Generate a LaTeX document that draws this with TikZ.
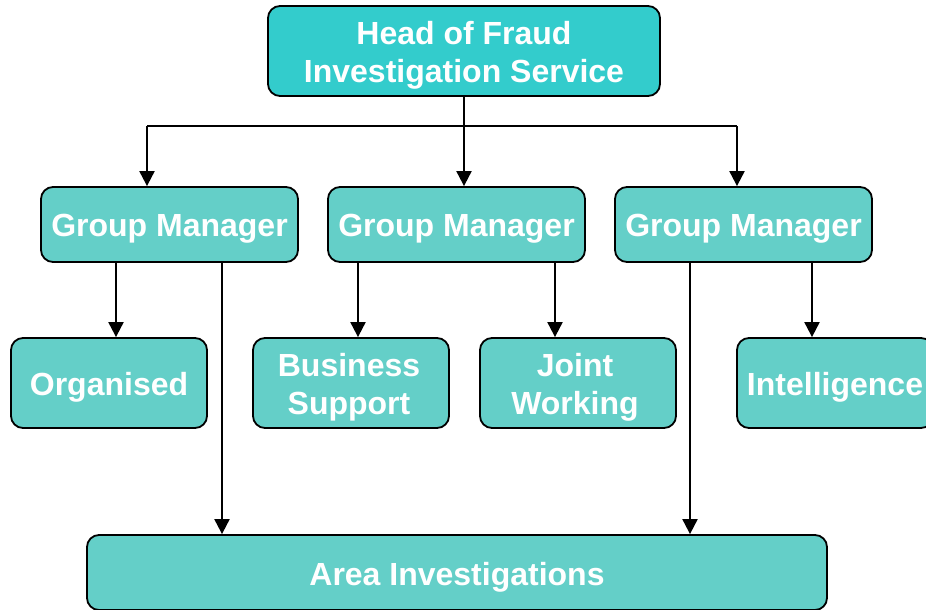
\documentclass[tikz,border=0pt]{standalone}
\usepackage{fontspec}
\setmainfont{Liberation Sans}
\usetikzlibrary{arrows.meta}
\definecolor{headfill}{RGB}{51,204,204}
\definecolor{boxfill}{RGB}{100,207,200}
\begin{document}
\begin{tikzpicture}[x=1pt,y=-1pt,
  box/.style={draw=black,line width=1.8pt,rounded corners=12pt,fill=boxfill,inner sep=0pt},
  txt/.style={text=white,font=\fontsize{32}{38}\selectfont\bfseries,align=center,inner sep=0pt,yshift=-4.5pt},
  gmbox/.style={box,minimum width=257pt,minimum height=75pt},
  lowbox/.style={box,minimum width=196pt,minimum height=90pt},
  conn/.style={line width=2pt,draw=black},
  arr/.style={conn,-{Triangle[length=15pt,width=15pt]}}]
\useasboundingbox (0,0) rectangle (926,610);
\node[box,fill=headfill,minimum width=392pt,minimum height=90pt,label={[txt]center:Head of Fraud\\Investigation Service}] (head) at (464,51) {};
\node[gmbox,label={[txt]center:Group Manager}] (gm1) at (169.5,224.5) {};
\node[gmbox,label={[txt]center:Group Manager}] (gm2) at (456.5,224.5) {};
\node[gmbox,label={[txt]center:Group Manager}] (gm3) at (743.5,224.5) {};
\node[lowbox,label={[txt]center:Organised}] (org) at (109,383) {};
\node[lowbox,label={[txt,xshift=-2pt]center:Business\\Support}] (bs) at (351,383) {};
\node[lowbox,label={[txt,xshift=-3pt]center:Joint\\Working}] (jw) at (578,383) {};
\node[lowbox,label={[txt]center:Intelligence}] (intel) at (835,383) {};
\node[box,minimum width=740pt,minimum height=75pt,label={[txt]center:Area Investigations}] (area) at (457,572.5) {};
\coordinate (bL) at (147,126);
\coordinate (bR) at (737,126);
\coordinate (x116) at (116,0);
\coordinate (x222) at (222,0);
\coordinate (x358) at (358,0);
\coordinate (x555) at (555,0);
\coordinate (x690) at (690,0);
\coordinate (x812) at (812,0);
\draw[conn] (bL) -- (bR);
\draw[arr] (head.south) -- (head.south |- gm2.north);
\draw[arr] (bL) -- (bL |- gm1.north);
\draw[arr] (bR) -- (bR |- gm3.north);
\draw[arr] (x116 |- gm1.south) -- (x116 |- org.north);
\draw[arr] (x222 |- gm1.south) -- (x222 |- area.north);
\draw[arr] (x358 |- gm2.south) -- (x358 |- bs.north);
\draw[arr] (x555 |- gm2.south) -- (x555 |- jw.north);
\draw[arr] (x690 |- gm3.south) -- (x690 |- area.north);
\draw[arr] (x812 |- gm3.south) -- (x812 |- intel.north);
\end{tikzpicture}
\end{document}
